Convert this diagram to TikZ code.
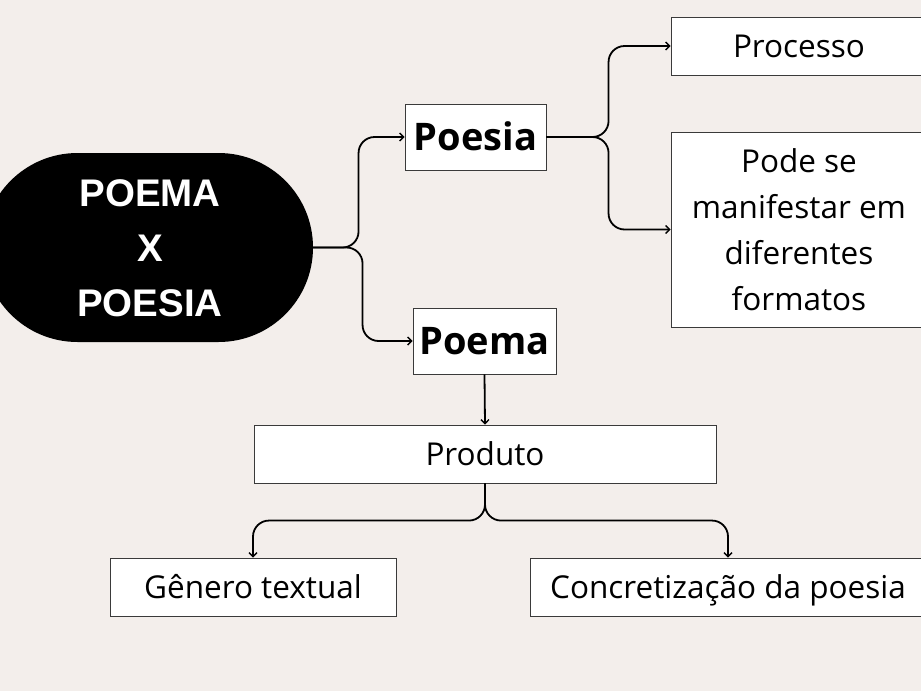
\documentclass[tikz,border=0pt]{standalone}
\usepackage{fontspec}
\setmainfont{Open Sans}
\newfontfamily\titlefont{Liberation Sans}
\usetikzlibrary{arrows.meta}
\definecolor{bg}{HTML}{F3EEEB}
\definecolor{boxline}{HTML}{3A3A3A}
\tikzset{
  box/.style={draw=boxline, line width=0.9pt, fill=white, inner sep=0pt, align=center},
  lbl/.style={font=\fontsize{31.5}{46}\selectfont, text height=26pt, text depth=4pt},
  multi/.style={font=\fontsize{31.5}{46}\selectfont},
  bold/.style={font=\fontsize{38}{42}\selectfont\bfseries, text height=31pt, text depth=5pt},
  conn/.style={line width=1.8pt, rounded corners=16pt, -{Straight Barb[length=4pt,width=8pt,line width=1.4pt]}}
}
\begin{document}
\begin{tikzpicture}[x=1pt,y=-1pt]
\fill[bg] (0,0) rectangle (921,691);
\useasboundingbox (0,0) rectangle (921,691);
% main stadium
\fill[black, rounded corners=94.5pt] (-17,153) rectangle (313,342);
\coordinate (mainE) at (313,247.5);
\node[text=white, align=center, font=\titlefont\fontsize{38.5}{55}\selectfont\bfseries] (main) at (150,248) {POEMA\\X\\POESIA};
% boxes
\node[box, bold, minimum width=141, minimum height=66] (poesia) at (475.5,137) {Poesia};
\node[box, bold, minimum width=143, minimum height=66] (poema) at (484.5,341) {Poema};
\node[box, lbl, minimum width=256, minimum height=58] (processo) at (799,46) {Processo};
\node[box, multi, minimum width=256, minimum height=195] (pode) at (799,229.5) {Pode se\\manifestar em\\diferentes\\formatos};
\node[box, lbl, minimum width=462, minimum height=58] (produto) at (485,454) {Produto};
\node[box, lbl, minimum width=286, minimum height=58] (genero) at (253,587) {Gênero textual};
\node[box, lbl, minimum width=396, minimum height=58] (concret) at (728,587) {Concretização da poesia};
% connectors
\draw[conn] (mainE) -| ([xshift=-46]poesia.west) -- (poesia.west);
\draw[conn] (mainE) -| ([xshift=-50]poema.west) -- (poema.west);
\draw[conn] (poesia.east) -| ([xshift=-62]processo.west) -- (processo.west);
\draw[conn] (poesia.east) -| ([xshift=-62]pode.west) -- (pode.west);
\draw[conn] (poema.south) -- (produto.north);
\draw[conn] (produto.south) |- ([yshift=37]genero.north) -- (genero.north);
\draw[conn] (produto.south) |- ([yshift=37]concret.north) -- (concret.north);
\end{tikzpicture}
\end{document}
